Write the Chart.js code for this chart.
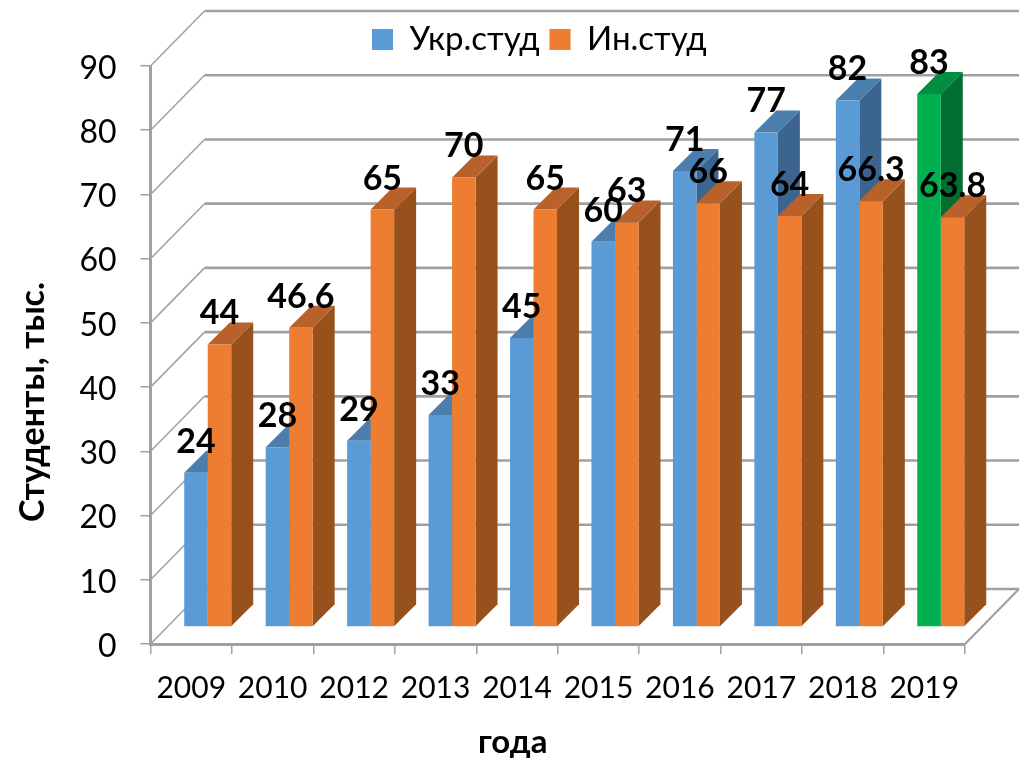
<!DOCTYPE html>
<html>
<head>
<meta charset="utf-8">
<style>
  html, body { margin: 0; padding: 0; background: #fff; }
  canvas { display: block; }
</style>
<script src="https://cdn.jsdelivr.net/npm/chart.js@4"></script>
</head>
<body>
<canvas id="chart" width="1027" height="762"></canvas>
<script>
const categories = ['2009', '2010', '2012', '2013', '2014', '2015', '2016', '2017', '2018', '2019'];
const ukrValues = [24, 28, 29, 33, 45, 60, 71, 77, 82, 83];
const inValues = [44, 46.6, 65, 70, 65, 63, 66, 64, 66.3, 63.8];
const highlightYear = '2019';

const FONT = 'Lato, Carlito, Calibri, sans-serif';
const GRAY = '#a0a0a0';

// front, top, side colours of the fake 3D bars
const BLUE = ['#5b9bd5', '#4b7dad', '#3b648e'];
const ORANGE = ['#ed7d31', '#b9612a', '#96511d'];
const GREEN = ['#00b050', '#008e40', '#006e31'];

// bars stand a bit inside the floor, the walls sit further back
const barShift = { x: 16.5, y: -17 };
const barDepth = 22;
const wallShift = { x: 54, y: -55 };

function facesFor(datasetIndex, i) {
  if (datasetIndex === 1) return ORANGE;
  return categories[i] === highlightYear ? GREEN : BLUE;
}

function line(ctx, x1, y1, x2, y2, width) {
  ctx.lineWidth = width;
  ctx.beginPath();
  ctx.moveTo(x1, y1);
  ctx.lineTo(x2, y2);
  ctx.stroke();
}

function poly(ctx, color, pts) {
  ctx.fillStyle = color;
  ctx.beginPath();
  pts.forEach((p, i) => i ? ctx.lineTo(p[0], p[1]) : ctx.moveTo(p[0], p[1]));
  ctx.closePath();
  ctx.fill();
}

// moves what a scale draws without touching its layout
function nudge(chart, scale, method, dx, dy) {
  const flag = '_nudged_' + method;
  if (scale[flag]) return;
  scale[flag] = true;
  const draw = scale[method];
  scale[method] = function (...args) {
    chart.ctx.save();
    chart.ctx.translate(dx, dy);
    draw.apply(this, args);
    chart.ctx.restore();
  };
}

const walls3d = {
  id: 'walls3d',
  afterLayout(chart) {
    // legend sits over the top wall, off centre
    chart.legend.left = 362;
    chart.legend.top = 13;

    // axis titles are off centre in the original
    nudge(chart, chart.scales.y, 'drawTitle', 0, 47);
    nudge(chart, chart.scales.x, 'drawTitle', -45, 0);
    nudge(chart, chart.scales.y, 'drawLabels', 0, 2.5);
  },
  beforeDatasetsDraw(chart) {
    const { ctx, chartArea: a, scales: { y } } = chart;
    const backLeft = a.left + wallShift.x;
    const backRight = a.right + wallShift.x;

    ctx.save();
    ctx.strokeStyle = GRAY;
    y.ticks.forEach(t => {
      const py = y.getPixelForValue(t.value);
      line(ctx, a.left, py, backLeft, py + wallShift.y, 1.5);
      line(ctx, backLeft, py + wallShift.y, backRight, py + wallShift.y, 2.6);
    });
    const floor = y.getPixelForValue(0);
    line(ctx, a.right, floor, backRight, floor + wallShift.y, 2.2);
    ctx.restore();

    // everything in the datasets is drawn moved onto the floor
    ctx.save();
    ctx.translate(barShift.x, barShift.y);
    categories.forEach((c, i) => {
      [0, 1].forEach(d => {
        const bar = chart.getDatasetMeta(d).data[i];
        const faces = facesFor(d, i);
        const l = bar.x - bar.width / 2;
        const r = bar.x + bar.width / 2;
        const t = bar.y;
        const b = bar.base;
        poly(ctx, faces[2], [[r, t], [r + barDepth, t - barDepth], [r + barDepth, b - barDepth], [r, b]]);
        poly(ctx, faces[1], [[l, t], [l + barDepth, t - barDepth], [r + barDepth, t - barDepth], [r, t]]);
      });
    });
  },
  afterDatasetsDraw(chart) {
    const { ctx } = chart;
    ctx.restore();

    ctx.save();
    ctx.fillStyle = '#000';
    ctx.font = 'bold 34px ' + FONT;
    ctx.textAlign = 'center';
    ctx.textBaseline = 'middle';
    chart.data.datasets.forEach((ds, d) => {
      chart.getDatasetMeta(d).data.forEach((bar, i) => {
        ctx.fillText(String(ds.data[i]), bar.x + barShift.x, bar.y + barShift.y - 31);
      });
    });
    ctx.restore();
  }
};

new Chart(document.getElementById('chart'), {
  type: 'bar',
  data: {
    labels: categories,
    datasets: [
      {
        label: 'Укр.студ',
        data: ukrValues,
        backgroundColor: c => (c.dataIndex !== undefined && categories[c.dataIndex] === highlightYear) ? GREEN[0] : BLUE[0],
        categoryPercentage: 0.577,
        barPercentage: 1,
        clip: false
      },
      {
        label: 'Ин.студ',
        data: inValues,
        backgroundColor: ORANGE[0],
        categoryPercentage: 0.577,
        barPercentage: 1,
        clip: false
      }
    ]
  },
  options: {
    responsive: false,
    animation: false,
    layout: { padding: { top: 13, right: 62, left: 0, bottom: 0 } },
    plugins: {
      tooltip: { enabled: false },
      legend: {
        position: 'top',
        align: 'start',
        labels: {
          boxWidth: 21,
          boxHeight: 21,
          padding: 10,
          color: '#000',
          font: { family: FONT, size: 33 }
        }
      }
    },
    scales: {
      x: {
        afterFit: s => { s.height = 118; },
        border: { color: GRAY, width: 3 },
        grid: { drawOnChartArea: false, color: GRAY, lineWidth: 1.5, tickLength: 10 },
        ticks: { color: '#000', font: { family: FONT, size: 30 }, padding: 16, autoSkip: false, maxRotation: 0 },
        title: {
          display: true,
          text: 'года',
          color: '#000',
          font: { family: FONT, size: 33, weight: 'bold' },
          padding: { top: 0, bottom: 0 }
        }
      },
      y: {
        min: 0,
        max: 90,
        afterFit: s => { s.width = 150.5; },
        border: { color: GRAY, width: 3 },
        grid: { drawOnChartArea: false, color: GRAY, lineWidth: 1.5, tickLength: 10 },
        ticks: { color: '#000', stepSize: 10, font: { family: FONT, size: 32 }, padding: 24 },
        title: {
          display: true,
          text: 'Студенты, тыс.',
          color: '#000',
          font: { family: FONT, size: 34, weight: 'bold' },
          padding: { top: 13, bottom: 0 }
        }
      }
    }
  },
  plugins: [walls3d]
});
</script>
</body>
</html>
